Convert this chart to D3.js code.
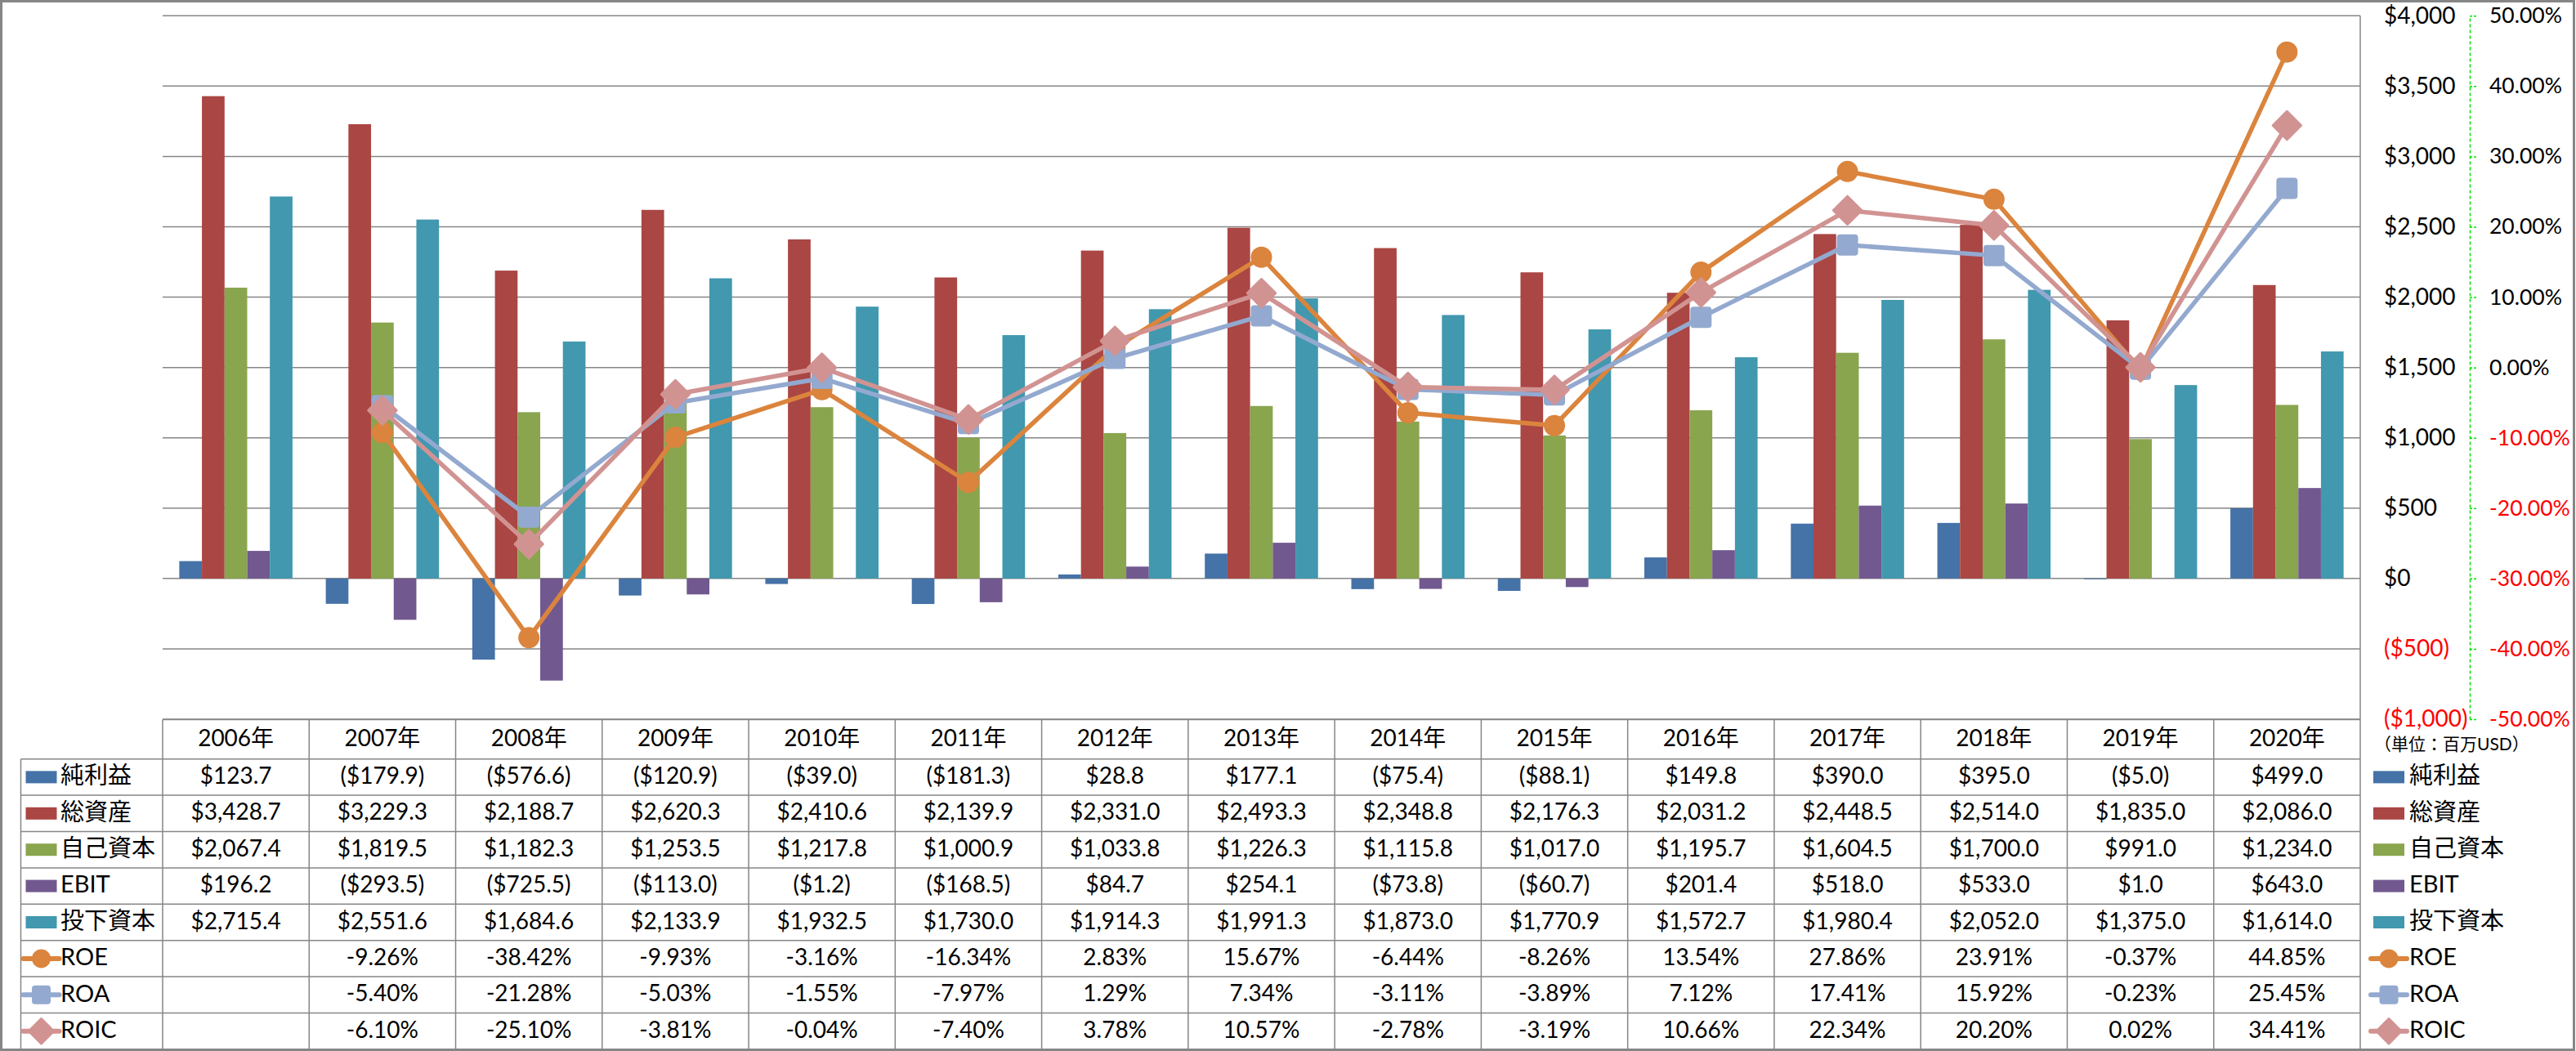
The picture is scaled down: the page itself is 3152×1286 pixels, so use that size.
<!DOCTYPE html>
<html><head><meta charset="utf-8">
<script src="https://cdn.jsdelivr.net/npm/d3@7"></script>
<style>
html,body{margin:0;padding:0;background:#fff;}
svg{display:block;}
text{font-family:Lato,"Noto Sans CJK JP",sans-serif;}
</style></head>
<body>
<svg id="chart" width="3152" height="1286"></svg>
<script>
const years = ["2006年","2007年","2008年","2009年","2010年","2011年","2012年","2013年","2014年","2015年","2016年","2017年","2018年","2019年","2020年"];
const barNames = ["純利益","総資産","自己資本","EBIT","投下資本"];
const lineNames = ["ROE","ROA","ROIC"];
const netIncome = [123.7,-179.9,-576.6,-120.9,-39.0,-181.3,28.8,177.1,-75.4,-88.1,149.8,390.0,395.0,-5.0,499.0];
const totalAssets = [3428.7,3229.3,2188.7,2620.3,2410.6,2139.9,2331.0,2493.3,2348.8,2176.3,2031.2,2448.5,2514.0,1835.0,2086.0];
const equity = [2067.4,1819.5,1182.3,1253.5,1217.8,1000.9,1033.8,1226.3,1115.8,1017.0,1195.7,1604.5,1700.0,991.0,1234.0];
const ebit = [196.2,-293.5,-725.5,-113.0,-1.2,-168.5,84.7,254.1,-73.8,-60.7,201.4,518.0,533.0,1.0,643.0];
const investedCapital = [2715.4,2551.6,1684.6,2133.9,1932.5,1730.0,1914.3,1991.3,1873.0,1770.9,1572.7,1980.4,2052.0,1375.0,1614.0];
const roe = [null,-9.26,-38.42,-9.93,-3.16,-16.34,2.83,15.67,-6.44,-8.26,13.54,27.86,23.91,-0.37,44.85];
const roa = [null,-5.40,-21.28,-5.03,-1.55,-7.97,1.29,7.34,-3.11,-3.89,7.12,17.41,15.92,-0.23,25.45];
const roic = [null,-6.10,-25.10,-3.81,-0.04,-7.40,3.78,10.57,-2.78,-3.19,10.66,22.34,20.20,0.02,34.41];
const usdTicks = [-1000,-500,0,500,1000,1500,2000,2500,3000,3500,4000];
const pctTicks = [-0.5,-0.4,-0.3,-0.2,-0.1,0,0.1,0.2,0.3,0.4,0.5];
const unitLabel = "（単位：百万USD）";

const barSeries = [netIncome,totalAssets,equity,ebit,investedCapital];
const lineSeries = [roe,roa,roic];
const barColors = ["#4572A7","#AA4643","#89A54E","#71588F","#4198AF"];
const lineColors = ["#DB843D","#93A9CF","#D19392"];
const lineMarkers = ["circle","square","diamond"];

const svg = d3.select("#chart");
const plotL = 199, plotR = 2888, plotT = 19.3, plotB = 880;
const headT = 880.5, headB = 928.7, rowH = 44.4, legL = 25.5;
const grid = "#868686";
const FS = 28;

const loc = d3.formatLocale({decimal:".",thousands:",",grouping:[3],currency:["$",""],minus:"-"});
const fComma = loc.format(",");
const f1 = loc.format(",.1f");
const fPct = loc.format(".2%");
const usdTick = v => v < 0 ? `($${fComma(-v)})` : `$${fComma(v)}`;
const usdCell = v => v < 0 ? `($${f1(-v)})` : `$${f1(v)}`;

const x0 = d3.scaleBand().domain(years).range([plotL, plotR]).padding(0);
const x1 = d3.scaleBand().domain(barNames).range([0, x0.bandwidth()]).paddingInner(0).paddingOuter(0.735);
const y = d3.scaleLinear().domain([-1000, 4000]).range([plotB, plotT]);
const y2 = d3.scaleLinear().domain([-0.5, 0.5]).range([plotB, plotT]);

// outer frame
svg.append("rect").attr("x",1.5).attr("y",1.5).attr("width",3148).attr("height",1283)
  .attr("fill","#fff").attr("stroke",grid).attr("stroke-width",3);

// gridlines
svg.append("g").selectAll("line").data(usdTicks).join("line")
  .attr("x1",plotL).attr("x2",plotR).attr("y1",d=>y(d)).attr("y2",d=>y(d))
  .attr("stroke",grid).attr("stroke-width",1.5);
svg.append("line").attr("x1",plotR).attr("x2",plotR).attr("y1",plotT).attr("y2",headB+8*rowH)
  .attr("stroke",grid).attr("stroke-width",1.5);

// bars
const bars = svg.append("g");
barSeries.forEach((s,si)=>{
  bars.append("g").selectAll("rect").data(s.map((v,i)=>({v,yr:years[i]}))).join("rect")
    .attr("x",d=>x0(d.yr)+x1(barNames[si]))
    .attr("width",x1.bandwidth())
    .attr("y",d=>Math.min(y(d.v),y(0)))
    .attr("height",d=>Math.abs(y(d.v)-y(0)))
    .attr("fill",barColors[si]);
});

// lines
function drawMarker(g, type, cx, cy, color, size){
  if(type==="circle") g.append("circle").attr("cx",cx).attr("cy",cy).attr("r",size/2).attr("fill",color);
  else if(type==="square") g.append("rect").attr("x",cx-size/2).attr("y",cy-size/2).attr("width",size).attr("height",size).attr("rx",4).attr("fill",color);
  else { const h=size*0.66; g.append("path").attr("d",`M${cx},${cy-h}L${cx+h},${cy}L${cx},${cy+h}L${cx-h},${cy}Z`).attr("fill",color).attr("stroke",color).attr("stroke-width",3).attr("stroke-linejoin","round"); }
}
const lines = svg.append("g");
lineSeries.forEach((s,si)=>{
  const pts = s.map((v,i)=>({v,yr:years[i]})).filter(d=>d.v!==null);
  const lg = lines.append("g");
  lg.append("path").datum(pts)
    .attr("d",d3.line().x(d=>x0(d.yr)+x0.bandwidth()/2).y(d=>y2(d.v/100)))
    .attr("fill","none").attr("stroke",lineColors[si]).attr("stroke-width",5.5).attr("stroke-linejoin","round");
  pts.forEach(d=>drawMarker(lg, lineMarkers[si], x0(d.yr)+x0.bandwidth()/2, y2(d.v/100), lineColors[si], 26));
});

// primary axis labels ($), left-aligned
const ax1 = svg.append("g").attr("transform","translate(2917,0)")
  .call(d3.axisRight(y).tickValues(usdTicks).tickSize(0).tickPadding(0).tickFormat(usdTick));
ax1.select(".domain").remove();
ax1.selectAll("text").attr("font-size",28).attr("font-family",'Lato,"Noto Sans CJK JP",sans-serif')
  .attr("fill",d=>d<0?"#FF0000":"#000").attr("text-anchor","start");

// secondary axis (%)
const ax2 = svg.append("g").attr("transform","translate(3022,0)")
  .call(d3.axisRight(y2).tickValues(pctTicks).tickSize(9).tickSizeOuter(0).tickPadding(15).tickFormat(fPct));
ax2.select(".domain").attr("stroke","#00E000").attr("stroke-width",1.5).attr("stroke-dasharray","4,3");
ax2.selectAll(".tick line").attr("stroke","#00E000").attr("stroke-width",1.5).attr("stroke-dasharray","3,2");
ax2.selectAll("text").attr("font-size",26.5).attr("font-family",'Lato,"Noto Sans CJK JP",sans-serif')
  .attr("fill",d=>d<0?"#FF0000":"#000");

// unit label
svg.append("text").attr("x",2905).attr("y",913).attr("dominant-baseline","middle")
  .attr("font-size",21).attr("fill","#000").text(unitLabel);

// data table
const tbl = svg.append("g");
const nRows = 8;
const tBottom = headB + nRows*rowH;
tbl.append("line").attr("x1",plotL).attr("x2",plotR).attr("y1",headT).attr("y2",headT).attr("stroke",grid).attr("stroke-width",1.5);
for(let r=0;r<=nRows;r++){
  const yy = headB + r*rowH;
  tbl.append("line").attr("x1",legL).attr("x2",plotR).attr("y1",yy).attr("y2",yy).attr("stroke",grid).attr("stroke-width",1.5);
}
years.forEach(yr=>{
  tbl.append("line").attr("x1",x0(yr)).attr("x2",x0(yr)).attr("y1",headT).attr("y2",tBottom).attr("stroke",grid).attr("stroke-width",1.5);
});
tbl.append("line").attr("x1",legL).attr("x2",legL).attr("y1",headB).attr("y2",tBottom).attr("stroke",grid).attr("stroke-width",1.5);
tbl.append("g").selectAll("text").data(years).join("text")
  .attr("x",d=>x0(d)+x0.bandwidth()/2).attr("y",(headT+headB)/2+1)
  .attr("text-anchor","middle").attr("dominant-baseline","middle").attr("font-size",FS).text(d=>d);

const allNames = barNames.concat(lineNames);
const allSeries = barSeries.concat(lineSeries);
function legendKey(g, i, kx, cy){
  if(i<5){
    g.append("rect").attr("x",kx).attr("y",cy-7.5).attr("width",38).attr("height",15).attr("fill",barColors[i]);
  } else {
    const li=i-5;
    g.append("line").attr("x1",kx-3).attr("x2",kx+41).attr("y1",cy).attr("y2",cy).attr("stroke",lineColors[li]).attr("stroke-width",6).attr("stroke-linecap","round");
    drawMarker(g, lineMarkers[li], kx+19, cy, lineColors[li], 23);
  }
}
allSeries.forEach((s,i)=>{
  const cy = headB + i*rowH + rowH/2;
  legendKey(tbl, i, 31.5, cy);
  tbl.append("text").attr("x",74).attr("y",cy+1).attr("dominant-baseline","middle").attr("font-size",29).text(allNames[i]);
  legendKey(tbl, i, 2904, cy);
  tbl.append("text").attr("x",2948).attr("y",cy+1).attr("dominant-baseline","middle").attr("font-size",29).text(allNames[i]);
  tbl.append("g").selectAll("text").data(s.map((v,k)=>({v,yr:years[k]}))).join("text")
    .attr("x",d=>x0(d.yr)+x0.bandwidth()/2).attr("y",cy+1)
    .attr("text-anchor","middle").attr("dominant-baseline","middle").attr("font-size",FS)
    .text(d=>d.v===null?"":(i<5?usdCell(d.v):d.v.toFixed(2)+"%"));
});
</script>
</body></html>
